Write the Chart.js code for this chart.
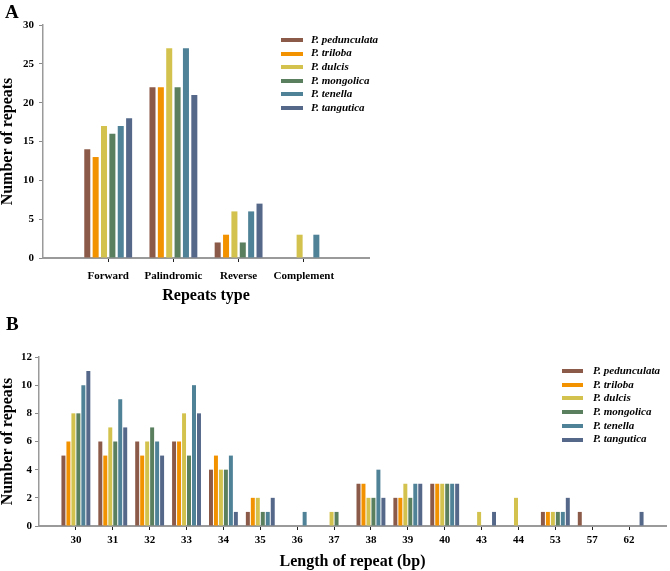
<!DOCTYPE html>
<html><head><meta charset="utf-8">
<script src="https://cdn.jsdelivr.net/npm/chart.js@4.4.1/dist/chart.umd.min.js"></script>
<style>
html,body{margin:0;padding:0;background:#fff;}
#wrap{position:relative;width:670px;height:571px;overflow:hidden;background:#fff;}
.letter{position:absolute;font-family:'Liberation Serif',serif;font-weight:bold;font-size:19px;color:#000;line-height:1;}
</style></head>
<body><div id="wrap">
<canvas id="cA" width="380" height="305" style="position:absolute;left:0;top:0"></canvas>
<canvas id="cB" width="670" height="266" style="position:absolute;left:0;top:305px"></canvas>
<div class="letter" style="left:5px;top:2px">A</div>
<div class="letter" style="left:6px;top:314px">B</div>
</div>
<script>
// ---------- data ----------
const species = ['P. pedunculata','P. triloba','P. dulcis','P. mongolica','P. tenella','P. tangutica'];
const speciesColors = ['#8C5A48','#F39200','#D3C34E','#5A7F5F','#4F8297','#55688A'];

// Panel A: repeats type
const repeatTypes = ['Forward','Palindromic','Reverse','Complement'];
const pedunculataA = [14,22,2,0];
const trilobaA     = [13,22,3,0];
const dulcisA      = [17,27,6,3];
const mongolicaA   = [16,22,2,0];
const tenellaA     = [17,27,6,3];
const tanguticaA   = [18,21,7,0];
const ticksA = [0,5,10,15,20,25,30];

// Panel B: length of repeat (bp)
const repeatLengths = ['30','31','32','33','34','35','36','37','38','39','40','43','44','53','57','62'];
const pedunculataB = [5,6,6,6,4,1,0,0,3,2,3,0,0,1,1,0];
const trilobaB     = [6,5,5,6,5,2,0,0,3,2,3,0,0,1,0,0];
const dulcisB      = [8,7,6,8,4,2,0,1,2,3,3,1,2,1,0,0];
const mongolicaB   = [8,6,7,5,4,1,0,1,2,2,3,0,0,1,0,0];
const tenellaB     = [10,9,6,10,5,1,1,0,4,3,3,0,0,1,0,0];
const tanguticaB   = [11,7,5,8,1,2,0,0,2,3,3,1,0,2,0,1];
const ticksB = [0,2,4,6,8,10,12];

// ---------- helpers ----------
const FONT = 'Liberation Serif';
const pad = arr => [null, ...arr, null];

function makeDatasets(series) {
  return series.map((vals, i) => ({
    label: species[i],
    data: pad(vals),
    backgroundColor: speciesColors[i],
    borderWidth: 0
  }));
}

const legendPlugin = {
  id: 'customLegend',
  afterDraw(chart, args, o) {
    const ctx = chart.ctx;
    ctx.save();
    ctx.font = 'italic bold 11px "' + FONT + '"';
    ctx.textBaseline = 'middle';
    chart.data.datasets.forEach((ds, i) => {
      const y = o.y + i * o.dy;
      ctx.fillStyle = ds.backgroundColor;
      ctx.fillRect(o.x, Math.round(y) - 2, o.w, 4);
      ctx.fillStyle = '#000';
      ctx.fillText(ds.label, o.tx, y);
    });
    ctx.restore();
  }
};

function makeScales(o) {
  return {
    x: {
      type: 'category',
      offset: false,
      grid: {
        offset: false, drawOnChartArea: false, drawTicks: true, tickLength: 4,
        tickColor: c => (c.index === 0 || c.index === o.nLabels - 1) ? 'rgba(0,0,0,0)' : '#222',
        tickWidth: 1
      },
      border: { display: true, color: '#9a9a9a', width: 2 },
      ticks: { autoSkip: false, maxRotation: 0, padding: o.xpad, color: '#000',
               font: { family: FONT, weight: 'bold', size: 11 } },
      title: { display: true, text: o.xTitle, color: '#000', padding: 0,
               font: { family: FONT, weight: 'bold', size: 16, lineHeight: 1.2 } },
      afterFit: s => { s.height = o.xh; }
    },
    y: {
      min: 0, max: o.ymax,
      afterBuildTicks: s => { s.ticks = o.yticks.map(v => ({ value: v })); },
      grid: { drawOnChartArea: false, drawTicks: true, tickLength: 4, tickColor: '#8a8a8a' },
      border: { display: true, color: '#9a9a9a', width: 1.5 },
      ticks: { padding: o.ypad, color: '#000', font: { family: FONT, weight: 'bold', size: 11 } },
      title: { display: true, text: 'Number of repeats', color: '#000', padding: 0,
               font: { family: FONT, weight: 'bold', size: 16, lineHeight: 1.0 } },
      afterFit: s => { s.width = o.yw; }
    }
  };
}

// ---------- Panel A ----------
const labelsA = pad(repeatTypes).map(v => v === null ? '' : v);
new Chart(document.getElementById('cA'), {
  type: 'bar',
  data: {
    labels: labelsA,
    datasets: makeDatasets([pedunculataA, trilobaA, dulcisA, mongolicaA, tenellaA, tanguticaA])
  },
  options: {
    responsive: false, animation: false,
    layout: { padding: { top: 25, right: 11, left: 0, bottom: 0 } },
    datasets: { bar: { categoryPercentage: 0.77, barPercentage: 0.72 } },
    plugins: {
      legend: { display: false }, tooltip: { enabled: false },
      customLegend: { x: 281, w: 22, tx: 311, y: 40, dy: 13.6 }
    },
    scales: makeScales({ nLabels: labelsA.length, xTitle: 'Repeats type', xh: 47, xpad: 8,
                         ymax: 30, yticks: ticksA, ypad: 5, yw: 43 })
  },
  plugins: [legendPlugin]
});

// ---------- Panel B ----------
const labelsB = pad(repeatLengths).map(v => v === null ? '' : v);
new Chart(document.getElementById('cB'), {
  type: 'bar',
  data: {
    labels: labelsB,
    datasets: makeDatasets([pedunculataB, trilobaB, dulcisB, mongolicaB, tenellaB, tanguticaB])
  },
  options: {
    responsive: false, animation: false,
    layout: { padding: { top: 52, right: 1, left: 0, bottom: 0 } },
    datasets: { bar: { categoryPercentage: 0.81, barPercentage: 0.8 } },
    plugins: {
      legend: { display: false }, tooltip: { enabled: false },
      customLegend: { x: 562, w: 21, tx: 593, y: 66, dy: 13.7 }
    },
    scales: makeScales({ nLabels: labelsB.length, xTitle: 'Length of repeat (bp)', xh: 45, xpad: 4,
                         ymax: 12, yticks: ticksB, ypad: 3, yw: 39 })
  },
  plugins: [legendPlugin]
});
</script>
</body></html>
